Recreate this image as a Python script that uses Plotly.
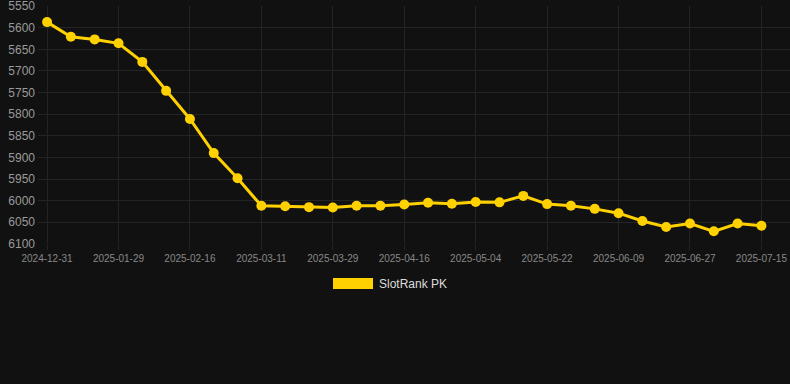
import plotly.graph_objects as go

dates = [
    "2024-12-31", "2025-01-09", "2025-01-19", "2025-01-29", "2025-02-04", "2025-02-10",
    "2025-02-16", "2025-02-24", "2025-03-03", "2025-03-11", "2025-03-17", "2025-03-23",
    "2025-03-29", "2025-04-04", "2025-04-10", "2025-04-16", "2025-04-22", "2025-04-28",
    "2025-05-04", "2025-05-10", "2025-05-16", "2025-05-22", "2025-05-28", "2025-06-03",
    "2025-06-09", "2025-06-15", "2025-06-21", "2025-06-27", "2025-07-03", "2025-07-09",
    "2025-07-15",
]
ranks = [
    5587, 5621, 5627, 5636, 5679, 5746, 5811, 5890, 5948, 6012, 6013,
    6015, 6016, 6012, 6012, 6009, 6005, 6007, 6003, 6004, 5989,
    6008, 6012, 6019, 6029, 6047, 6061, 6053, 6071, 6053, 6058,
]
y_ticks = [5550, 5600, 5650, 5700, 5750, 5800, 5850, 5900, 5950, 6000, 6050, 6100]
x_tick_labels = dates[::3]
series_name = "SlotRank PK"

yellow = "#FFD100"
grid = "#242424"
font_family = "Liberation Sans, Arial, sans-serif"

fig = go.Figure()
fig.add_trace(go.Scatter(
    x=dates, y=ranks, mode="lines+markers", name=series_name,
    line=dict(color=yellow, width=3),
    marker=dict(color=yellow, size=10),
    showlegend=False,
))

fig.update_layout(
    width=790, height=384,
    paper_bgcolor="#111111", plot_bgcolor="#111111",
    margin=dict(l=38, r=0, t=6, b=140),
    font=dict(family=font_family, color="#999999"),
    xaxis=dict(
        type="category",
        categoryorder="array", categoryarray=dates,
        tickmode="array", tickvals=x_tick_labels, ticktext=x_tick_labels,
        range=[-0.38, 31.2],
        showgrid=True, gridcolor=grid, gridwidth=1,
        ticks="outside", ticklen=5, tickcolor=grid,
        tickfont=dict(size=10, color="#888888"),
        showline=False, zeroline=False,
        ticklabeloverflow="allow",
    ),
    yaxis=dict(
        range=[6100.3, 5549.7],
        tickmode="array", tickvals=y_ticks,
        showgrid=True, gridcolor=grid, gridwidth=1,
        tickfont=dict(size=12, color="#9a9a9a"),
        ticks="", ticklabelstandoff=2,
        showline=False, zeroline=False,
        ticklabeloverflow="allow",
    ),
    shapes=[dict(
        type="rect", xref="paper", yref="paper",
        x0=(333 - 38) / 752, x1=(373 - 38) / 752,
        y0=-(289 - 244) / 238, y1=-(278 - 244) / 238,
        fillcolor=yellow, line=dict(width=0),
    )],
    annotations=[dict(
        text=series_name, xref="paper", yref="paper",
        x=(377 - 38) / 752, y=-(284 - 244) / 238,
        xanchor="left", yanchor="middle", showarrow=False,
        font=dict(size=12, color="#dddddd", family=font_family),
    )],
)

fig.write_html(
    "out.html",
    config={"responsive": False, "displayModeBar": False},
    post_script="document.body.style.margin='0';document.body.style.overflow='hidden';document.body.style.background='#111111';",
)
